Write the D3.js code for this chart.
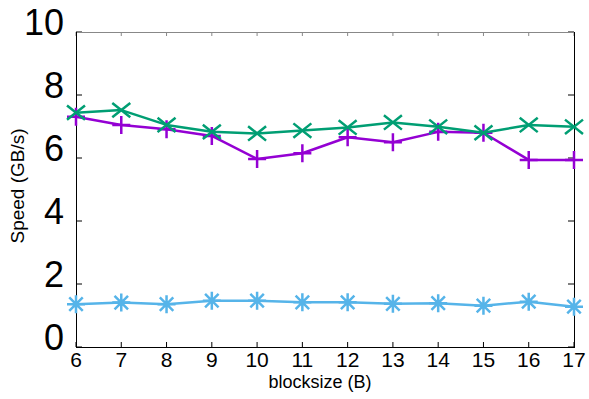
<!DOCTYPE html>
<html>
<head>
<meta charset="utf-8">
<script src="https://cdn.jsdelivr.net/npm/d3@7"></script>
<style>
  html, body { margin: 0; padding: 0; background: #fff; }
  svg { display: block; font-family: "Liberation Sans", Arial, sans-serif; }
</style>
</head>
<body>
<svg id="chart" width="589" height="399"></svg>
<script>
// Block sizes (x) and measured throughput per series (GB/s)
const blocksizes = [6, 7, 8, 9, 10, 11, 12, 13, 14, 15, 16, 17];
const seriesPlus  = [7.31, 7.05, 6.91, 6.70, 5.97, 6.15, 6.66, 6.50, 6.83, 6.80, 5.94, 5.94];
const seriesCross = [7.44, 7.52, 7.05, 6.83, 6.78, 6.87, 6.97, 7.13, 6.99, 6.80, 7.05, 6.99];
const seriesStar  = [1.36, 1.41, 1.36, 1.47, 1.47, 1.42, 1.42, 1.37, 1.39, 1.31, 1.44, 1.28];
const yTicks = [0, 2, 4, 6, 8, 10];
const xTicks = blocksizes;

const series = [
  { values: seriesPlus,  color: "#9400d3", marker: "plus" },
  { values: seriesCross, color: "#009e73", marker: "cross" },
  { values: seriesStar,  color: "#56b4e9", marker: "star" }
];

const svg = d3.select("#chart");
const plotL = 76, plotR = 574, plotT = 32, plotB = 347;

const x = d3.scaleLinear().domain([6, 17]).range([plotL, plotR]);
const y = d3.scaleLinear().domain([0, 10]).range([plotB, plotT]);

// Tick marks pointing inward on all four sides
const tickG = svg.append("g");
yTicks.forEach(t => {
  tickG.append("line").attr("x1", plotL).attr("x2", plotL + 6)
    .attr("y1", y(t)).attr("y2", y(t)).attr("stroke", "#000").attr("stroke-width", 1);
  tickG.append("line").attr("x1", plotR).attr("x2", plotR - 6)
    .attr("y1", y(t)).attr("y2", y(t)).attr("stroke", "#000").attr("stroke-width", 1);
});
xTicks.forEach(t => {
  tickG.append("line").attr("x1", x(t)).attr("x2", x(t))
    .attr("y1", plotB).attr("y2", plotB - 5).attr("stroke", "#000").attr("stroke-width", 1);
  tickG.append("line").attr("x1", x(t)).attr("x2", x(t))
    .attr("y1", plotT).attr("y2", plotT + 4).attr("stroke", "#888").attr("stroke-width", 1);
});

// Frame
svg.append("line").attr("x1", plotL).attr("x2", plotR).attr("y1", plotT + 0.5).attr("y2", plotT + 0.5)
  .attr("stroke", "#888").attr("stroke-width", 1);
svg.append("line").attr("x1", plotL).attr("x2", plotR).attr("y1", plotB + 0.5).attr("y2", plotB + 0.5)
  .attr("stroke", "#000").attr("stroke-width", 1);
svg.append("line").attr("x1", plotL + 0.5).attr("x2", plotL + 0.5).attr("y1", plotT).attr("y2", plotB + 1)
  .attr("stroke", "#000").attr("stroke-width", 1);
svg.append("line").attr("x1", plotR + 0.5).attr("x2", plotR + 0.5).attr("y1", plotT).attr("y2", plotB + 1)
  .attr("stroke", "#000").attr("stroke-width", 1);

// Y tick labels
svg.append("g").selectAll("text").data(yTicks).join("text")
  .attr("x", 64).attr("y", d => y(d) + 3)
  .attr("text-anchor", "end").attr("font-size", 36).attr("fill", "#000")
  .text(d => d);

// X tick labels
svg.append("g").selectAll("text").data(xTicks).join("text")
  .attr("x", d => x(d)).attr("y", 367)
  .attr("text-anchor", "middle").attr("font-size", 21).attr("fill", "#000")
  .text(d => d);

// Axis titles
svg.append("text").attr("x", 320).attr("y", 388)
  .attr("text-anchor", "middle").attr("font-size", 18).text("blocksize (B)");
svg.append("text").attr("transform", `translate(24,186) rotate(-90)`)
  .attr("text-anchor", "middle").attr("font-size", 19).text("Speed (GB/s)");

// Marker path generators
const s = 9;
const markerPath = {
  plus:  `M${-s},0L${s},0M0,${-s}L0,${s}`,
  cross: `M${-s},${-s * 0.8}L${s},${s * 0.8}M${-s},${s * 0.8}L${s},${-s * 0.8}`,
  star:  `M${-s},0L${s},0M0,${-s}L0,${s}M${-s * 0.75},${-s * 0.75}L${s * 0.75},${s * 0.75}M${-s * 0.75},${s * 0.75}L${s * 0.75},${-s * 0.75}`
};

const line = d3.line().x((d, i) => x(blocksizes[i])).y(d => y(d));

series.forEach(sr => {
  const g = svg.append("g");
  g.append("path").datum(sr.values).attr("d", line)
    .attr("fill", "none").attr("stroke", sr.color).attr("stroke-width", 2.5)
    .attr("stroke-linejoin", "round");
  g.selectAll("path.m").data(sr.values).join("path").attr("class", "m")
    .attr("transform", (d, i) => `translate(${x(blocksizes[i])},${y(d)})`)
    .attr("d", markerPath[sr.marker])
    .attr("fill", "none").attr("stroke", sr.color).attr("stroke-width", 2.5);
});
</script>
</body>
</html>
